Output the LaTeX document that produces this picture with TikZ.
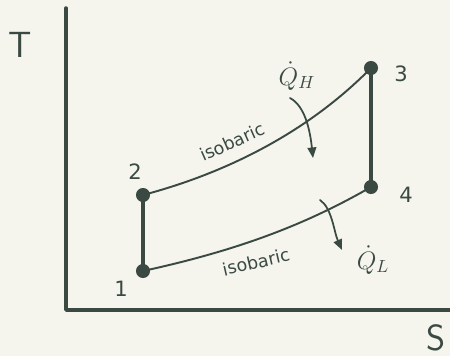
\documentclass[tikz,border=0pt]{standalone}
\usepackage{fontspec}
\setmainfont{DejaVu Sans}
\usetikzlibrary{arrows.meta}
\definecolor{ink}{HTML}{3A4A42}
\definecolor{paper}{HTML}{F5F5EE}
\begin{document}
\begin{tikzpicture}[x=0.02cm,y=-0.02cm,
  ink/.style={draw=ink,line cap=round,line join=round},
  axis/.style={ink,line width=2pt},
  thick line/.style={ink,line width=2pt},
  curve/.style={ink,line width=1.1pt},
  statept/.style={circle,fill=ink,inner sep=0pt,minimum size=8pt},
  lbl/.style={text=ink,font=\large},
  iso/.style={text=ink,font=\normalsize,inner sep=1pt},
  heat/.style={ink,line width=1pt,-{Triangle[length=6pt,width=5pt]}}]
\fill[paper] (0,0) rectangle (450,356);
\useasboundingbox (0,0) rectangle (450,356);
% axes
\coordinate (o) at (66,310);
\coordinate (ytop) at (66,8);
\coordinate (xend) at (450,310);
\draw[axis] (ytop) -- (o) -- (xend);
\node[lbl,font=\huge\sffamily] (T) at (20,45) {T};
\node[lbl,font=\huge\sffamily,inner sep=1pt] (S) at (436,338) {S};
% states
\node[statept] (p1) at (143,271) {};
\node[statept] (p2) at (143,195) {};
\node[statept] (p3) at (371,68) {};
\node[statept] (p4) at (371,187) {};
\node[lbl] (l1) at (121,289) {1};
\node[lbl] (l2) at (135,172) {2};
\node[lbl] (l3) at (401,74) {3};
\node[lbl] (l4) at (406,195) {4};
% processes
\draw[thick line] (p1.center) -- (p2.center);
\draw[thick line] (p3.center) -- (p4.center);
\draw[curve] (p2.center) .. controls (230,172) and (310,130) .. (p3.center);
\draw[curve] (p1.center) .. controls (230,252) and (300,228) .. (p4.center);
\node[iso,rotate=24] (iso1) at (232,142) {isobaric};
\node[iso,rotate=13] (iso2) at (256,262) {isobaric};
% heat
\node[lbl,font=\Large,inner sep=1pt] (QH) at (297,76) {$\dot{Q}_H$};
\node[lbl,font=\Large,inner sep=1pt] (QL) at (373,260) {$\dot{Q}_L$};
\coordinate (qh0) at (290,98);
\coordinate (qh1) at (313,158);
\coordinate (ql0) at (320,200);
\coordinate (ql1) at (342,250);
\draw[heat] (qh0) .. controls (305,106) and (310,130) .. (qh1);
\draw[heat] (ql0) .. controls (332,208) and (334,232) .. (ql1);
\end{tikzpicture}
\end{document}
